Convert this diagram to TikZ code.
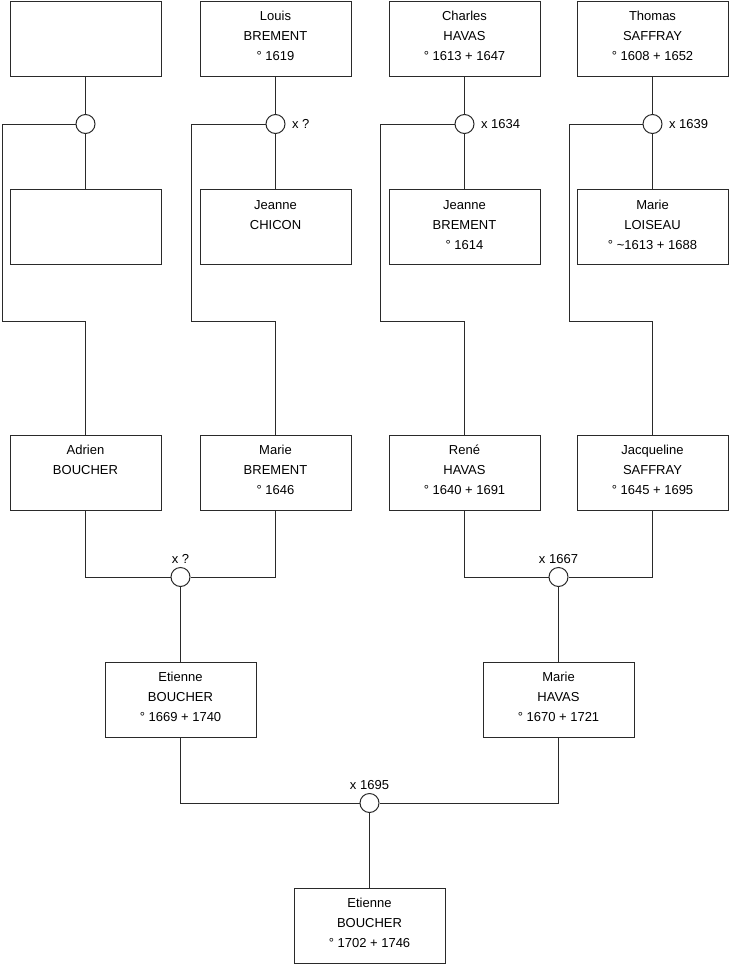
\documentclass[tikz,border=0pt]{standalone}
\usepackage{fontspec}
\setmainfont{Liberation Sans}
\usetikzlibrary{positioning}
\definecolor{cline}{HTML}{2A2A2A}
\newcommand{\who}[3]{\strut #1\\\strut #2\\\strut #3\rule[-10pt]{0pt}{10pt}}
\tikzset{
  every picture/.style={line width=1pt},
  person/.style={draw=cline, fill=white, minimum width=151pt, minimum height=75pt, align=center, inner sep=0pt, font=\fontsize{13}{20}\selectfont},
  wedding/.style={draw=cline, fill=white, circle, minimum size=19pt, inner sep=0pt},
  wlabel/.style={font=\fontsize{13}{16}\selectfont, inner sep=1pt},
  link/.style={draw=cline, line width=1pt},
}

\begin{document}
\begin{tikzpicture}[x=1pt, y=-1pt]
  \useasboundingbox (0,0) rectangle (740,975);
  % great-grandparents
  \node[person] (a1) at (85.5,38.5) {\who{}{}{}};
  \node[person] (a2) at (275.5,38.5) {\who{Louis}{BREMENT}{° 1619}};
  \node[person] (a3) at (464.5,38.5) {\who{Charles}{HAVAS}{° 1613 + 1647}};
  \node[person] (a4) at (652.5,38.5) {\who{Thomas}{SAFFRAY}{° 1608 + 1652}};
  \node[wedding] (m1) at (85.5,124) {};
  \node[wedding] (m2) at (275.5,124) {};
  \node[wedding] (m3) at (464.5,124) {};
  \node[wedding] (m4) at (652.5,124) {};
  \node[wlabel, right=5pt of m2] (lm2) {x ?};
  \node[wlabel, right=5pt of m3] (lm3) {x 1634};
  \node[wlabel, right=5pt of m4] (lm4) {x 1639};
  \node[person] (b1) at (85.5,227) {\who{}{}{}};
  \node[person] (b2) at (275.5,227) {\who{Jeanne}{CHICON}{}};
  \node[person] (b3) at (464.5,227) {\who{Jeanne}{BREMENT}{° 1614}};
  \node[person] (b4) at (652.5,227) {\who{Marie}{LOISEAU}{° \textasciitilde1613 + 1688}};
  % grandparents
  \node[person] (c1) at (85.5,472.5) {\who{Adrien}{BOUCHER}{}};
  \node[person] (c2) at (275.5,472.5) {\who{Marie}{BREMENT}{° 1646}};
  \node[person] (c3) at (464.5,472.5) {\who{René}{HAVAS}{° 1640 + 1691}};
  \node[person] (c4) at (652.5,472.5) {\who{Jacqueline}{SAFFRAY}{° 1645 + 1695}};
  \node[wedding] (n1) at (180.5,577) {};
  \node[wedding] (n2) at (558.5,577) {};
  \node[wlabel, above=2pt of n1] (ln1) {x ?};
  \node[wlabel, above=2pt of n2] (ln2) {x 1667};
  % parents
  \node[person] (d1) at (180.5,699.5) {\who{Etienne}{BOUCHER}{° 1669 + 1740}};
  \node[person] (d2) at (558.5,699.5) {\who{Marie}{HAVAS}{° 1670 + 1721}};
  \node[wedding] (n3) at (369.5,803) {};
  \node[wlabel, above=2pt of n3] (ln3) {x 1695};
  \node[person] (e1) at (369.5,925.5) {\who{Etienne}{BOUCHER}{° 1702 + 1746}};
  % rails down to the children
  \coordinate (r1) at (2,321);
  \coordinate (r2) at (191,321);
  \coordinate (r3) at (380,321);
  \coordinate (r4) at (569,321);
  \foreach \i in {1,...,4} {
    \draw[link] (a\i) -- (m\i) -- (b\i);
    \draw[link] (m\i.west) -| (r\i) -| (c\i.north);
  }
  \draw[link] (c1.south) |- (n1.west);
  \draw[link] (c2.south) |- (n1.east);
  \draw[link] (c3.south) |- (n2.west);
  \draw[link] (c4.south) |- (n2.east);
  \draw[link] (n1) -- (d1);
  \draw[link] (n2) -- (d2);
  \draw[link] (d1.south) |- (n3.west);
  \draw[link] (d2.south) |- (n3.east);
  \draw[link] (n3) -- (e1);
\end{tikzpicture}
\end{document}
